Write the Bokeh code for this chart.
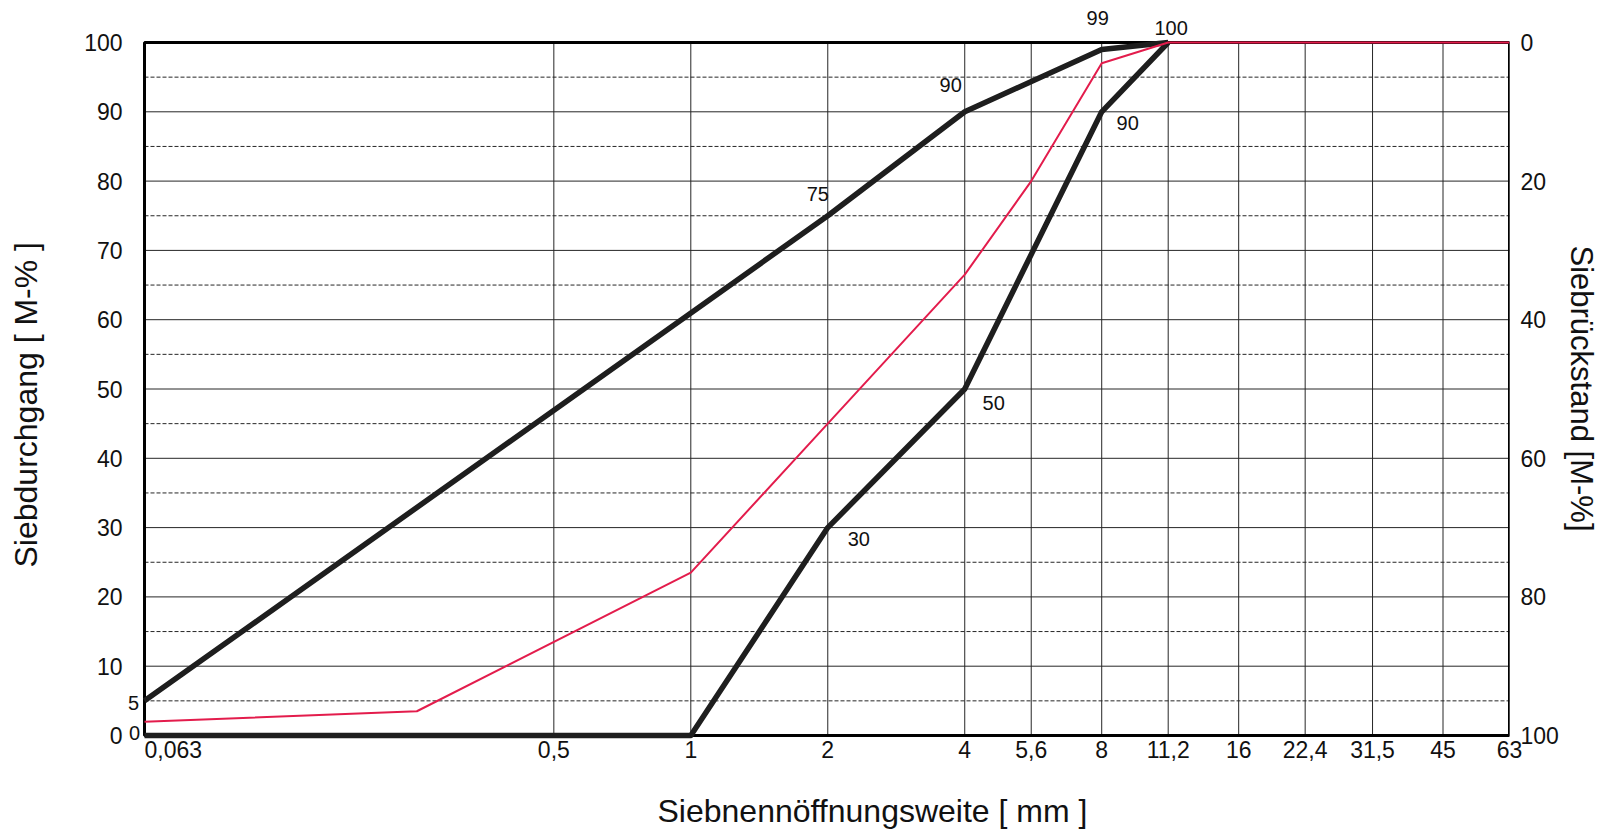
from bokeh.plotting import figure
from bokeh.models import Range1d, LinearAxis, FixedTicker, LabelSet, Label, ColumnDataSource, Title
from bokeh.core.properties import value
from bokeh.embed import file_html
from bokeh.resources import INLINE
import math

# ---- data -------------------------------------------------------------
sieve_sizes = [0.063, 0.5, 1, 2, 4, 5.6, 8, 11.2, 16, 22.4, 31.5, 45, 63]
sieve_labels = ["0,063", "0,5", "1", "2", "4", "5,6", "8", "11,2", "16", "22,4", "31,5", "45", "63"]

upper_x = [0.063, 2, 4, 8, 11.2]
upper_y = [5, 75, 90, 99, 100]

lower_x = [0.063, 1, 2, 4, 8, 11.2]
lower_y = [0, 0, 30, 50, 90, 100]

sample_x = [0.063, 0.25, 1, 2, 4, 5.6, 8, 11.2, 63]
sample_y = [2, 3.5, 23.5, 45, 66.5, 80, 97, 100, 100]

left_ticks = [0, 10, 20, 30, 40, 50, 60, 70, 80, 90, 100]
dash_lines = [5, 15, 25, 35, 45, 55, 65, 75, 85, 95]
right_ticks = [0, 20, 40, 60, 80, 100]

ann_text = ["5", "0", "75", "90", "99", "100", "30", "50", "90"]
ann_x = [0.063, 0.063, 2, 4, 8, 11.2, 2, 4, 8]
ann_y = [5, 0, 75, 90, 99, 100, 30, 50, 90]
# label offsets in screen pixels (style)
ann_dx = [-11, -10, -10, -14, -4, 3, 31, 29, 26]
ann_dy = [-2, 3, 22, 27, 31, 15, -11, -14, -11]

x_title = "Siebnennöffnungsweite [ mm ]"
y_title = "Siebdurchgang [ M-% ]"
y2_title = "Siebrückstand [M-%]"

FONT = "Liberation Sans"
GRID = "#262626"
TXT = "#111111"

# ---- layout geometry (pixels) ------------------------------------------
W, H = 1605, 829
RIGHT = 96
frame_w = W - RIGHT
frame_h = H
pad_left = 144         # frame space left of the chart border
pad_top = 42           # frame space above the chart border
pad_bottom = 94        # frame space below the chart border

x_min, x_max = sieve_sizes[0], sieve_sizes[-1]
chart_w = frame_w - pad_left
px_per_oct = chart_w / math.log2(x_max / x_min)
x_start = x_min * 2 ** (-pad_left / px_per_oct)
ppu = (frame_h - pad_top - pad_bottom) / 100.0
y_lo = -pad_bottom / ppu
y_hi = 100 + pad_top / ppu

p = figure(width=W, height=H, x_axis_type="log",
           x_range=Range1d(x_start, x_max), y_range=Range1d(y_lo, y_hi),
           output_backend="svg", toolbar_location=None,
           min_border_left=0, min_border_right=RIGHT,
           min_border_top=0, min_border_bottom=0,
           background_fill_color="white", border_fill_color="white")
p.grid.visible = False
p.outline_line_color = None

# x axis
p.xaxis.ticker = FixedTicker(ticks=sieve_sizes, minor_ticks=[])
overrides = dict(zip(sieve_sizes, sieve_labels))
overrides[sieve_sizes[0]] = "\u00a0" * 9 + sieve_labels[0]
p.xaxis.major_label_overrides = overrides

# left axis
p.yaxis.ticker = FixedTicker(ticks=left_ticks, minor_ticks=[])

# right axis (residue = 100 - passing)
p.extra_y_ranges = {"rest": Range1d(100 - y_lo, 100 - y_hi)}
rax = LinearAxis(y_range_name="rest", ticker=FixedTicker(ticks=right_ticks, minor_ticks=[]))
p.add_layout(rax, "right")

for ax in p.axis:
    ax.major_tick_line_color = None
    ax.minor_tick_line_color = None
    ax.major_tick_out = 0
    ax.major_tick_in = 0
    ax.minor_tick_out = 0
    ax.minor_tick_in = 0
    ax.axis_line_color = None
    ax.major_label_text_font = FONT
    ax.major_label_text_font_size = "23px"
    ax.major_label_text_color = TXT

# labels sit next to the chart border, which lies inside the frame
p.xaxis.major_label_standoff = -(pad_bottom - 1)
p.yaxis.major_label_standoff = -(pad_left - 22)
rax.major_label_standoff = 11

# axis titles
p.add_layout(Label(x=657, y=19, x_units="screen", y_units="screen", text=x_title,
                   text_align="left", text_baseline="middle",
                   text_font=FONT, text_font_size="32px", text_color=TXT))
p.add_layout(Label(x=25, y=262, x_units="screen", y_units="screen", text=y_title,
                   angle=math.pi / 2, text_align="left", text_baseline="middle",
                   text_font=FONT, text_font_size="32px", text_color=TXT))
p.add_layout(Title(text=y2_title, align="left", offset=245, standoff=4,
                   vertical_align="bottom", text_font=FONT, text_font_size="31px",
                   text_font_style="normal", text_color=TXT), "right")

# grid lines drawn inside the chart border
p.segment(x0=sieve_sizes, y0=0, x1=sieve_sizes, y1=100, line_color=GRID, line_width=1)
p.segment(x0=x_min, y0=left_ticks, x1=x_max, y1=left_ticks, line_color=GRID, line_width=1)
p.segment(x0=x_min, y0=dash_lines, x1=x_max, y1=dash_lines, line_color=GRID,
          line_width=1, line_dash="4 2")

# chart border
p.quad(left=[x_min], right=[x_max], bottom=[0], top=[100], fill_color=None,
       line_color="black", line_width=3)

# curves
p.line(upper_x, upper_y, line_color="#1e1e1e", line_width=5.5, line_join="round")
p.line(lower_x, lower_y, line_color="#1e1e1e", line_width=5.5, line_join="round")
p.line(sample_x, sample_y, line_color="#e31c4c", line_width=2, line_join="round")

# value labels
src = ColumnDataSource(dict(x=ann_x, y=ann_y, t=ann_text, dx=ann_dx, dy=ann_dy))
p.add_layout(LabelSet(x="x", y="y", text="t", source=src, x_offset="dx", y_offset="dy",
                      text_align="center", text_baseline="middle",
                      text_font=value(FONT), text_font_size=value("20px"),
                      text_color=TXT))

open("out.html", "w").write(file_html(p, INLINE))
